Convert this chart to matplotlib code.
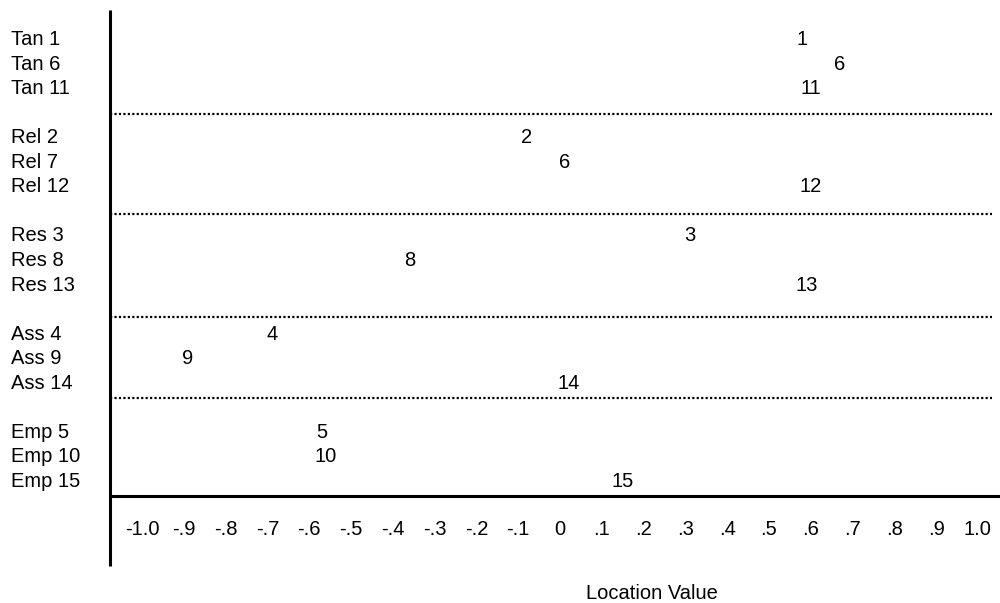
import matplotlib
matplotlib.use("Agg")
import matplotlib.pyplot as plt

plt.rcParams['font.family'] = ['Liberation Sans', 'DejaVu Sans']

# row labels (grouped by dimension, 3 items each)
groups = ["Tan", "Rel", "Res", "Ass", "Emp"]
item_labels = ["Tan 1", "Tan 6", "Tan 11",
               "Rel 2", "Rel 7", "Rel 12",
               "Res 3", "Res 8", "Res 13",
               "Ass 4", "Ass 9", "Ass 14",
               "Emp 5", "Emp 10", "Emp 15"]
point_labels = ["1", "6", "11",
                "2", "6", "12",
                "3", "8", "13",
                "4", "9", "14",
                "5", "10", "15"]
locations = [0.58, 0.67, 0.60,
             -0.08, 0.01, 0.60,
             0.31, -0.36, 0.59,
             -0.69, -0.89, 0.02,
             -0.57, -0.56, 0.15]

tick_values = [-1.0, -0.9, -0.8, -0.7, -0.6, -0.5, -0.4, -0.3, -0.2, -0.1,
               0.0, 0.1, 0.2, 0.3, 0.4, 0.5, 0.6, 0.7, 0.8, 0.9, 1.0]
tick_labels = ["-1.0", "-.9", "-.8", "-.7", "-.6", "-.5", "-.4", "-.3", "-.2", "-.1",
               "0", ".1", ".2", ".3", ".4", ".5", ".6", ".7", ".8", ".9", "1.0"]

# separator positions (in row units) between groups
separators = [3.1, 7.2, 11.4, 14.7]

fig = plt.figure(figsize=(10, 6.03), dpi=100)
ax = fig.add_axes([0, 0, 1, 1])
ax.set_xlim(-1.34, 1.053)
ax.set_ylim(23.06, -1.55)
ax.axis('off')

fs = 14.5
per_group = 3

# row positions: 3 rows per group plus one blank row between groups
rows = [g * (per_group + 1) + r for g in range(len(groups)) for r in range(per_group)]

for y, lab, num, loc in zip(rows, item_labels, point_labels, locations):
    ax.text(0.011, y, lab, transform=ax.get_yaxis_transform(), fontsize=fs,
            ha='left', va='center_baseline')
    ax.text(loc, y, num, fontsize=fs, ha='center', va='center_baseline')

for s in separators:
    ax.plot([-1.077, 1.034], [s, s], color='black', linewidth=1.6,
            linestyle=(0, (1, 1)))

# axis lines
ax.plot([-1.077, -1.077], [-1.15, 21.55], color='black', linewidth=2.2,
        solid_capstyle='butt')
ax.plot([-1.077, 1.06], [18.7, 18.7], color='black', linewidth=2.2,
        solid_capstyle='butt')

for v, t in zip(tick_values, tick_labels):
    ax.text(v, 19.96, t, fontsize=fs, ha='center', va='center_baseline')

ax.text(0.22, 22.6, "Location Value", fontsize=fs, ha='center',
        va='center_baseline')

fig.savefig("out.png", dpi=100)
